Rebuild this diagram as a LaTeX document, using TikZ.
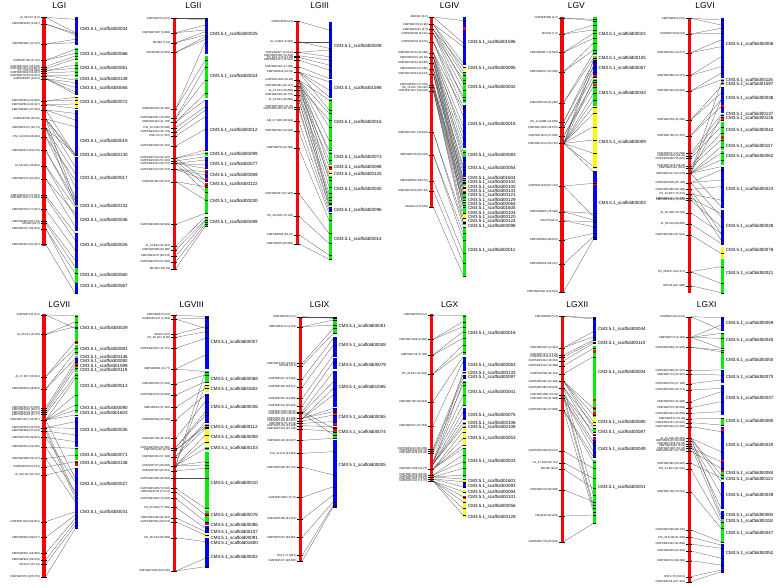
\documentclass[tikz,border=0pt]{standalone}
\usepackage{fontspec}
\setmainfont{Liberation Sans}
\definecolor{cR}{RGB}{255,0,0}
\definecolor{cB}{RGB}{0,0,255}
\definecolor{cG}{RGB}{0,240,0}
\definecolor{cY}{RGB}{255,255,0}
\definecolor{cK}{RGB}{150,150,150}
\definecolor{cO}{RGB}{170,170,60}
\tikzset{
 ttl/.style={font=\fontsize{8.5}{10}\selectfont, inner sep=0pt},
 mlab/.style={font=\fontsize{2.8}{3}\selectfont, anchor=east, inner sep=0pt},
 slab/.style={font=\fontsize{4.5}{5}\selectfont, anchor=west, inner sep=0pt},
 conn/.style={line width=0.25pt, draw=black!70},
 tk/.style={line width=0.25pt, draw=black},
}
\newcommand\LGlines{\foreach \ya/\yb in \CL {\draw[conn] (\LX,\ya) -- (\Rx,\yb);}}
\newcommand\LGticks{\foreach \ya/\yb in \CL {\draw[tk] (\Rx,\yb) -- (\RX,\yb);}}
\newcommand\LGred[2]{\fill[cR] (\Lx,#1) rectangle (\LX,#2);}
\newcommand\LGseg[1]{\foreach \ya/\yb/\col in {#1} {\fill[\col] (\Rx,\ya) rectangle (\RX,\yb);}}
\newcommand\LGspot[1]{\foreach \ya/\col in {#1} {\fill[\col] (\Rx,\ya-4) rectangle (\RX,\ya+4);}}
\newcommand\LGmark[1]{\foreach \ya/\lbl in {#1} {\draw[tk] (\Lx-5,\ya) -- (\LX+3,\ya); \node[mlab] at (\Lx-7,\ya) {\lbl};}}
\newcommand\LGlab[1]{\foreach \ya/\nm in {#1} {\node[slab] at (\RX+5,\ya) {CM3.5.1\_scaffold\nm};}}
\begin{document}
\begin{tikzpicture}[x=0.333333pt, y=-0.333333pt]
\fill[white] (0,0) rectangle (2334,1764);
\useasboundingbox (0,0) rectangle (2334,1764);
% ---------------- LGI
\begin{scope}[shift={(0,0)}]
\def\Lx{127}\def\LX{137}\def\Rx{225}\def\RX{235}
\node[ttl] at (178,18) {LGI};
\def\CL{52/58, 52/98, 72/100, 72/104, 132/118, 132/128, 181/148, 181/160, 200/168, 206/176, 212/195, 212/205, 219/215, 227/225, 227/240, 236/248, 236/262, 236/275, 236/282, 303/292, 303/300, 314/312, 314/325, 330/340, 330/360, 330/465, 357/380, 357/462, 357/470, 357/500, 357/600, 384/462, 384/520, 384/560, 384/612, 410/540, 410/590, 451/600, 451/612, 498/620, 498/650, 536/640, 536/680, 586/700, 592/720, 628/750, 664/780, 670/800, 686/820, 686/850, 733/880}
\LGlines
\LGred{50}{738}
\LGseg{52/135/cB, 143/180/cG, 187/231/cG, 234/240/cK, 243/284/cB, 290/328/cY, 330/461/cB, 463/467/cK, 470/612/cB, 615/620/cK, 624/692/cB, 700/800/cB, 805/848/cG, 852/880/cB}
\LGticks
\LGmark{52/AI\_06-F07 (0.0), 72/CMPSNP1020 (2.947), 132/CMPSNP883 (11.207), 181/CMPSNP788 (17.40), 200/CMPSNP1191 (20.128), 206/CMPSNP1004 (20.887), 212/FY\_07G (21.549), 219/CMPSNP1162 (22.301), 227/CMPSNP1078 (23.402), 236/CMPSNP887 (24.52), 303/CMPSNP463 (32.858), 314/CMPSNP613 (33.407), 330/CMPSNP461 (37.033), 357/CMPSNP398 (40.86), 384/CMPSNP1157 (44.73), 410/PSI\_12-D08 (46.459), 451/CMPSNP410 (52.279), 498/AI\_05-G01 (55.902), 536/CMPSNP721 (64.942), 586/CMPSNP1113 (71.352), 592/CMPSNP1041 (71.843), 628/CMPSNP784 (77.267), 664/CMPSNP863 (80.716), 670/MC242 (81.0), 686/CMPSNP787 (84.069), 733/CMPSNP304 (91.467)}
\LGlab{87/00034, 162/00066, 206/00061, 238/00138, 265/00065, 307/00072, 423/00019, 466/00130, 535/00017, 618/00132, 660/00046, 736/00026, 826/00060, 858/00067}
\end{scope}
% ---------------- LGII
\begin{scope}[shift={(390,0)}]
\def\Lx{128}\def\LX{137}\def\Rx{226}\def\RX{235}
\node[ttl] at (190,18) {LGII};
\def\CL{55/55, 55/60, 98/75, 98/90, 128/95, 128/105, 157/110, 157/118, 327/125, 327/180, 354/200, 354/240, 366/280, 366/300, 383/320, 396/330, 408/350, 438/388, 474/450, 474/460, 474/540, 483/470, 483/555, 490/480, 490/495, 490/505, 490/575, 508/515, 508/525, 508/540, 545/560, 545/600, 673/640, 738/650, 750/660, 768/665, 786/672, 806/678}
\LGlines
\LGred{55}{808}
\LGseg{55/162/cB, 167/295/cG, 300/452/cB, 455/468/cG, 474/505/cB, 510/545/cB, 548/560/cR, 563/640/cG, 650/680/cG}
\LGspot{518/cR, 537/cR}
\LGticks
\LGmark{55/CMPSNP754 (0.0), 98/CMPSNP1007 (5.884), 128/MC360 (7.61), 157/FR10H2B (12.853), 327/CMPSNP902 (36.455), 354/CMPSNP1067 (40.255), 366/CMPSNP222 (41.728), 383/PSI\_10-C06 (43.948), 396/CMPSNP1074 (45.779), 408/PSE-79 (47.267), 438/CMPSNP1093 (51.515), 474/CMPSNP1012 (56.187), 483/CMPSNP1015 (57.402), 490/CMPSNP1201 (58.737), 508/CMPSNP1073 (60.273), 545/CMPSNP381 (65.521), 673/CMPSNP1806 (82.881), 738/AI\_14-E02 (91.821), 750/CMPSNP998 (93.385), 768/CMPSNP1079 (95.011), 786/CMPSNP1076 (97.826), 806/MC282 (100.63)}
\LGlab{104/00025, 230/00024, 392/00012, 462/00099, 493/00077, 526/00069, 552/00122, 604/00030, 668/00089}
\end{scope}
% ---------------- LGIII
\begin{scope}[shift={(774,0)}]
\def\Lx{113}\def\LX{122}\def\Rx{213}\def\RX{223}
\node[ttl] at (185,18) {LGIII};
\def\CL{64/90, 125/125, 125/145, 157/150, 157/170, 167/180, 172/195, 180/210, 200/235, 216/245, 216/270, 216/290, 216/330, 240/300, 240/340, 240/380, 240/420, 240/460, 240/500, 240/540, 240/610, 258/360, 258/450, 258/520, 271/480, 271/560, 284/530, 284/580, 300/590, 300/600, 320/612, 327/620, 363/630, 393/640, 444/660, 580/700, 648/730, 704/765, 731/778}
\LGlines
\LGred{62}{733}
\LGseg{65/235/cB, 240/290/cB, 296/452/cG, 455/495/cG, 498/510/cR, 512/522/cY, 528/618/cG, 620/636/cB, 640/780/cG}
\LGticks
\LGmark{64/CMPSNP98 (0.0), 125/AI\_14-B01 (5.662), 157/CMPSNP327 (11.811), 167/CMPSNP1108 (13.243), 172/PS\_B01-C12 (14.06), 180/CMPSNP1137 (15.012), 200/CMPSNP918 (17.436), 216/CMPSNP814 (20.01), 240/CMPSNP1193 (22.86), 258/CMPSNP961 (25.127), 271/AI\_01-C11 (26.856), 284/CMPSNP526 (28.775), 300/AI\_02-H11 (30.885), 320/CMPSNP1064 (33.25), 327/CMPSNP1226 (34.107), 363/AM\_37-H06 (38.919), 393/CMPSNP522 (42.894), 444/CMPSNP78 (49.492), 580/CMPSNP947 (67.323), 648/PS\_08-G06 (75.132), 704/CMPSNP566 (82.07), 731/CMPSNP35 (85.802)}
\LGlab{140/00008, 264/01598, 368/00015, 472/00073, 502/00088, 524/00125, 569/00040, 630/00096, 718/00014}
\end{scope}
% ---------------- LGIV
\begin{scope}[shift={(1164,0)}]
\def\Lx{127}\def\LX{136}\def\Rx{226}\def\RX{235}
\node[ttl] at (185,18) {LGIV};
\def\CL{51/62, 51/130, 73/140, 73/190, 73/215, 88/200, 88/225, 88/250, 100/240, 100/270, 100/300, 126/290, 126/320, 126/350, 158/330, 158/380, 158/420, 158/540, 172/400, 172/440, 172/470, 172/560, 188/455, 188/480, 188/510, 188/580, 207/500, 207/520, 207/545, 207/600, 222/535, 222/550, 222/565, 222/620, 254/560, 254/575, 254/590, 262/590, 262/605, 262/615, 272/620, 272/640, 272/655, 272/670, 397/665, 397/680, 464/700, 464/720, 542/760, 572/790, 621/828}
\LGlines
\LGred{50}{622}
\LGseg{52/195/cB, 200/212/cY, 218/308/cG, 315/445/cB, 450/470/cG, 475/530/cB, 533/548/cK, 552/558/cG, 560/570/cY, 572/578/cR, 580/600/cG, 605/640/cG, 642/660/cY, 662/675/cK, 680/830/cG}
\LGspot{85/cR}
\LGticks
\LGmark{51/ADES10 (0.0), 73/CMPSNP470 (2.99), 88/CMPSNP1021 (4.5), 100/CMPSNP606 (6.021), 126/CMPSNP634 (9.079), 158/CMPSNP1013 (14.496), 172/CMPSNP1001 (16.33), 188/CMPSNP1029 (18.066), 207/CMPSNP380 (21.066), 222/CMPSNP1038 (23.213), 254/CMPSNP360 (27.304), 262/MI\_79-H07 (28.446), 272/CMPSNP1107 (29.409), 397/CMPSNP1027 (46.804), 464/CMPSNP716 (55.413), 542/CMPSNP562 (66.079), 572/CMPSNP1058 (68.724), 621/CmGlmut (75.606)}
\LGlab{128/01596, 206/00095, 263/00032, 374/00018, 466/00083, 506/00054, 535/01604, 548/00102, 561/00100, 574/00131, 587/00121, 600/00129, 613/00064, 626/01605, 639/00104, 652/00120, 665/00124, 678/00098, 752/00011}
\end{scope}
% ---------------- LGV
\begin{scope}[shift={(1554,0)}]
\def\Lx{127}\def\LX{137}\def\Rx{226}\def\RX{236}
\node[ttl] at (175,18) {LGV};
\def\CL{54/58, 54/62, 102/75, 102/90, 157/100, 157/115, 215/130, 215/150, 308/160, 308/175, 365/185, 365/200, 382/215, 382/230, 408/245, 408/260, 430/180, 430/200, 430/240, 430/280, 430/300, 430/320, 430/340, 430/380, 430/420, 430/460, 430/500, 430/515, 558/550, 558/650, 635/640, 635/660, 662/665, 662/680, 720/700, 792/710, 875/718}
\LGlines
\LGred{52}{877}
\LGseg{52/165/cG, 168/180/cO, 183/232/cB, 238/318/cG, 325/508/cY, 513/720/cB}
\LGspot{228/cR, 255/cR, 550/cR}
\LGticks
\LGmark{54/CMPSNP868 (0.0), 102/MC233 (7.0), 157/CMPSNP387 (14.864), 215/CMPSNP437 (22.058), 308/CMPSNP738 (34.288), 365/HS\_11-A08B (41.808), 382/CMPSNP1288 (43.875), 408/CMPSNP1124 (47.558), 430/CMPSNP1210 (50.744), 558/CMPSNP1138 (67.723), 635/CMPSNP665 (78.348), 662/MC276 (82.0), 720/CMPSNP669 (88.872), 792/CMPSNP466 (98.207), 875/CMPSNP1082 (110.521)}
\LGlab{103/00022, 174/00105, 206/00057, 281/00043, 427/00009, 610/00003}
\end{scope}
% ---------------- LGVI
\begin{scope}[shift={(1935,0)}]
\def\Lx{128}\def\LX{137}\def\Rx{228}\def\RX{237}
\node[ttl] at (180,18) {LGVI};
\def\CL{55/60, 55/75, 102/85, 102/100, 158/120, 158/140, 226/170, 226/200, 273/220, 273/240, 360/260, 360/280, 407/300, 407/320, 460/345, 467/360, 475/380, 497/400, 503/420, 520/250, 520/300, 520/350, 520/440, 520/460, 520/480, 520/500, 520/620, 548/510, 548/540, 548/650, 568/560, 568/700, 582/600, 582/720, 595/640, 600/680, 638/700, 672/730, 705/760, 815/800, 815/850, 857/878}
\LGlines
\LGred{55}{880}
\LGseg{55/235/cB, 237/256/cK, 260/338/cB, 341/350/cK, 352/362/cR, 365/440/cG, 441/449/cK, 452/495/cG, 500/625/cB, 630/735/cB, 740/775/cY, 778/880/cG}
\LGspot{320/cR, 413/cR}
\LGticks
\LGmark{55/CMPSNP425 (0.0), 102/CMPSNP1016 (6.8), 158/CMPSNP902 (14.077), 226/CMPSNP868 (23.271), 273/CMPSNP322 (28.801), 360/CMPSNP258 (41.086), 407/CMPSNP796 (47.267), 460/CMPSNP617 (53.696), 467/CMPSNP1122 (54.31), 475/CMPSNP1080 (55.621), 497/CMPSNP1218 (58.23), 503/CMPSNP1134 (58.9), 520/CMPSNP1127 (62.076), 548/CMPSNP1005 (65.798), 568/CMPSNP1260 (68.188), 582/PS\_15-B07 (70.471), 595/CMPSNP1141 (72.335), 600/CMPSNP1121 (73.021), 638/AI\_05-H06 (78.723), 672/AI\_06-F04 (82.855), 705/CMPSNP1861 (87.512), 815/PS\_26-B07 (102.471), 857/MC045 (107.985)}
\LGlab{133/00006, 241/00116, 253/01597, 294/00038, 343/00137, 355/00126, 390/00042, 440/00117, 470/00062, 568/00023, 680/00028, 752/00078, 820/00021}
\end{scope}
% ---------------- LGVII
\begin{scope}[shift={(0,885)}]
\def\Lx{127}\def\LX{137}\def\Rx{226}\def\RX{235}
\node[ttl] at (178,28) {LGVII};
\def\CL{60/62, 60/100, 118/80, 118/95, 245/140, 245/160, 282/170, 282/190, 338/200, 345/210, 352/220, 358/240, 375/250, 375/300, 375/330, 375/345, 375/360, 375/550, 398/380, 398/400, 398/600, 408/420, 408/610, 427/440, 427/560, 456/460, 456/590, 490/480, 490/620, 516/500, 540/520, 680/650, 727/660, 775/670, 795/680, 808/690, 845/700}
\LGlines
\LGred{58}{847}
\LGseg{60/145/cG, 150/180/cG, 183/188/cK, 190/200/cB, 202/230/cG, 233/330/cG, 333/355/cG, 365/455/cB, 458/495/cG, 498/512/cR, 518/610/cB, 612/700/cB}
\LGspot{143/cR, 205/cR, 213/cR}
\LGticks
\LGmark{60/CMPSNP743 (0.0), 118/AI\_05-F11 (6.795), 245/AI\_27-F07 (23.951), 282/CMPSNP555 (28.808), 338/CMPSNP904 (37.626), 345/CMPSNP1010 (38.51), 352/CMPSNP1233 (40.06), 358/CMPSNP1063 (41.77), 375/CMPSNP1027 (43.487), 398/CMPSNP526 (45.613), 408/CMPSNP966 (47.183), 427/CMPSNP738 (49.651), 456/CMPSNP344 (53.446), 490/CMPSNP988 (58.117), 516/CMPSNP98 (61.514), 540/AI\_09-H11 (64.732), 680/CMPSNP1108 (82.951), 727/CMPSNP482 (89.877), 775/CMPSNP461 (96.388), 795/CMPSNP922 (99.079), 808/MC132 (101.13), 845/CMPSNP979 (105.756)}
\LGlab{100/00029, 163/00081, 186/00146, 198/00092, 213/01599, 226/00119, 273/00013, 341/00090, 354/01603, 405/00035, 482/00071, 504/00136, 567/00027, 651/00031}
\end{scope}
% ---------------- LGVIII
\begin{scope}[shift={(390,885)}]
\def\Lx{128}\def\LX{137}\def\Rx{226}\def\RX{236}
\node[ttl] at (185,28) {LGVIII};
\def\CL{60/65, 72/70, 72/100, 118/95, 127/110, 160/130, 222/180, 222/230, 266/240, 300/260, 337/280, 375/300, 430/320, 458/350, 458/360, 465/390, 465/396, 485/380, 485/400, 512/230, 512/270, 512/420, 512/440, 512/460, 512/500, 512/510, 527/520, 550/550, 580/640, 590/660, 610/680, 637/700, 668/710, 680/720, 728/740, 828/790, 828/815}
\LGlines
\LGred{60}{830}
\LGseg{62/222/cB, 228/265/cG, 270/290/cY, 296/385/cB, 388/396/cK, 400/450/cY, 455/466/cG, 470/640/cG, 645/680/cG, 683/690/cR, 692/712/cB, 716/726/cY, 730/820/cB}
\LGspot{657/cR}
\LGticks
\LGmark{60/CMPSNP875 (0.0), 72/CMPSNP1147 (1.854), 118/MC301 (6.0), 127/PS\_25-G11 (6.85), 160/CMPSNP1037 (12.757), 222/CMPSNP984 (21.77), 266/CMPSNP535 (27.643), 300/CMPSNP1079 (32.862), 337/CMPSNP62 (37.262), 375/CMPSNP629 (42.236), 430/CMPSNP798 (48.713), 458/CMPSNP1091 (52.355), 465/CMPSNP1216 (52.9), 485/CMPSNP281 (57.183), 512/CMPSNP747 (60.802), 527/CMPSNP367 (62.012), 550/CMPSNP1066 (65.864), 580/CMPSNP1085 (70.006), 590/CMPSNP1035 (71.011), 610/CMPSNP1092 (72.643), 637/PS\_25-H03 (77.305), 668/CMPSNP1186 (81.821), 680/CMPSNP1061 (83.073), 728/HS\_06-A03 (89.289), 828/CMPSNP1188 (103.245)}
\LGlab{142/00007, 254/00068, 283/01602, 337/00036, 396/00112, 428/00058, 460/00103, 565/00010, 662/00076, 690/00086, 712/00107, 730/00091, 745/01600, 788/00002}
\end{scope}
% ---------------- LGIX
\begin{scope}[shift={(774,885)}]
\def\Lx{123}\def\LX{133}\def\Rx{226}\def\RX{236}
\node[ttl] at (185,28) {LGIX};
\def\CL{65/65, 65/70, 95/75, 95/90, 205/100, 212/115, 252/130, 276/150, 310/180, 332/200, 350/230, 350/400, 355/260, 355/420, 370/280, 370/300, 370/340, 370/350, 378/360, 385/380, 392/395, 402/410, 436/430, 475/470, 517/540, 607/575, 672/600, 727/620, 781/630, 797/635}
\LGlines
\LGred{65}{800}
\LGseg{65/118/cG, 125/185/cB, 190/222/cB, 228/335/cB, 340/392/cB, 398/430/cG, 435/635/cB}
\LGspot{356/cR, 385/cR, 402/cR, 410/cR}
\LGticks
\LGmark{65/CMPSNP501 (0.0), 95/CMPSNP1172 (4.125), 205/CMPSNP1261 (18.871), 212/MC068 (20.0), 252/CMPSNP621 (25.991), 276/CMPSNP380 (28.417), 310/CMPSNP581 (32.966), 332/CMPSNP231 (35.925), 350/CMPSNP1035 (38.41), 355/CMPSNP1229 (39.02), 370/CMPSNP1197 (41.238), 378/CMPSNP1129 (42.307), 385/CMPSNP1170 (43.18), 392/CMPSNP1103 (44.288), 402/CMPSNP1254 (45.128), 436/CMPSNP1145 (49.637), 475/PSI\_31-D11 (54.963), 517/CMPSNP1086 (60.751), 607/CMPSNP1066 (72.73), 672/CMPSNP1168 (81.425), 727/CMPSNP1067 (88.861), 781/EST1-17 (96.0), 797/CMPSNP472 (98.635)}
\LGlab{93/00051, 152/00048, 212/00079, 278/01595, 368/00055, 413/00074, 510/00005}
\end{scope}
% ---------------- LGX
\begin{scope}[shift={(1164,885)}]
\def\Lx{125}\def\LX{135}\def\Rx{225}\def\RX{235}
\node[ttl] at (185,28) {LGX};
\def\CL{60/62, 133/80, 133/95, 180/110, 180/130, 237/150, 237/170, 320/185, 392/200, 462/240, 468/250, 474/270, 500/230, 500/300, 500/330, 508/260, 508/350, 508/370, 508/385, 508/395, 522/410, 522/430, 522/450, 522/460, 540/480, 540/500, 546/520, 546/540, 546/552, 552/560, 552/575, 558/590, 558/605, 558/620, 558/640, 558/660}
\LGlines
\LGred{58}{560}
\LGseg{60/180/cG, 188/228/cB, 231/237/cK, 240/250/cB, 258/330/cG, 340/376/cB, 380/390/cO, 392/398/cK, 402/450/cY, 458/550/cG, 553/560/cY, 563/578/cB, 584/598/cY, 603/611/cR, 615/665/cY}
\LGticks
\LGmark{60/CMPSNP786 (0.0), 133/CMPSNP1206 (9.284), 180/CMPSNP716 (9.798), 237/PS\_40-E11 (21.604), 320/CMPSNP792 (30.991), 392/CMPSNP871 (44.753), 462/CMPSNP1212 (52.308), 468/CMPSNP1143 (53.11), 474/CMPSNP1228 (54.02), 522/CMPSNP1048 (62.27), 540/CMPSNP1200 (68.05), 546/CMPSNP1118 (69.33), 552/CMPSNP1054 (70.52), 558/CMPSNP1211 (71.70)}
\LGlab{115/00016, 212/00063, 236/00133, 248/00097, 292/00041, 360/00075, 384/00106, 396/00108, 430/00053, 500/00033, 558/01601, 575/00093, 591/00094, 608/00101, 635/00056, 667/00128}
\end{scope}
% ---------------- LGXII
\begin{scope}[shift={(1554,885)}]
\def\Lx{128}\def\LX{137}\def\Rx{226}\def\RX{235}
\node[ttl] at (178,28) {LGXII};
\def\CL{64/68, 64/72, 158/110, 158/125, 180/135, 186/140, 197/145, 212/160, 236/185, 259/340, 259/360, 259/380, 259/400, 278/390, 278/420, 278/600, 300/410, 300/440, 300/630, 310/450, 310/470, 310/640, 345/485, 345/500, 345/650, 468/520, 503/550, 522/580, 584/620, 663/660, 740/685}
\LGlines
\LGred{62}{742}
\LGseg{65/135/cB, 140/148/cB, 152/365/cG, 370/395/cY, 398/415/cG, 416/422/cR, 425/490/cB, 495/688/cG}
\LGspot{170/cR, 315/cR, 340/cR, 355/cR, 432/cR}
\LGticks
\LGmark{64/CMPSNP385 (0.0), 158/CMPSNP823 (12.912), 180/CMPSNP1217 (15.02), 186/CMPSNP1139 (15.58), 197/CMPSNP1324 (16.254), 212/CMPSNP1312 (18.388), 236/CMPSNP568 (22.113), 259/CMPSNP1281 (24.393), 278/CMPSNP1283 (26.535), 300/CMPSNP1084 (30.32), 310/CMPSNP778 (31.686), 345/CMPSNP1284 (37.856), 468/CMPSNP1058 (56.027), 503/CL\_57-E03 (59.727), 522/MC168 (62.0), 584/CMPSNP470 (69.906), 663/FR14F22 (81.801), 740/CMPSNP1778 (90.878)}
\LGlab{102/00044, 145/00110, 233/00004, 382/00080, 411/00087, 464/00049, 576/00001}
\end{scope}
% ---------------- LGXI
\begin{scope}[shift={(1935,885)}]
\def\Lx{128}\def\LX{138}\def\Rx{228}\def\RX{237}
\node[ttl] at (185,28) {LGXI};
\def\CL{65/68, 65/105, 127/90, 127/115, 127/130, 127/160, 157/165, 157/170, 226/225, 238/240, 266/255, 285/280, 320/290, 338/320, 355/350, 372/370, 383/390, 395/410, 430/470, 430/540, 430/560, 430/660, 438/600, 446/640, 453/670, 460/500, 468/520, 505/548, 522/680, 590/700, 705/740, 727/750, 747/760, 768/790, 797/810, 845/825, 860/830}
\LGlines
\LGred{65}{862}
\LGseg{65/108/cB, 115/160/cG, 165/222/cG, 228/265/cB, 270/360/cB, 368/390/cG, 395/525/cB, 526/530/cR, 531/548/cG, 550/556/cK, 560/640/cB, 648/670/cB, 672/680/cK, 685/745/cG, 748/830/cB}
\LGspot{405/cR, 500/cR}
\LGticks
\LGmark{65/CMPSNP1214 (0.0), 127/CMPSNP772 (6.426), 157/CMPSNP1086 (12.932), 226/CMPSNP1096 (21.975), 238/CMPSNP771 (23.467), 266/CMPSNP1278 (27.196), 285/CMPSNP1005 (29.771), 320/CMPSNP502 (34.296), 338/CMPSNP575 (36.889), 355/CMPSNP1021 (39.556), 372/CMPSNP670 (41.38), 383/CMPSNP1247 (43.037), 395/CMPSNP1249 (44.408), 430/AI\_02-A06 (48.902), 438/CMPSNP1105 (50.063), 446/CMPSNP1233 (50.92), 453/CMPSNP1049 (51.8), 460/CMPSNP1087 (52.43), 468/CMPSNP1197 (53.198), 505/CMPSNP992 (59.325), 522/PSI\_41-B07 (61.535), 590/CMPSNP728 (75.513), 705/CMPSNP1296 (88.245), 727/PSI\_35-H1B (90.348), 747/CMPSNP1312 (91.858), 768/CMPSNP826 (94.402), 797/CMPSNP474 (98.283), 845/EST2-75 (105.0), 860/CMPSNP416 (107.316)}
\LGlab{85/00059, 135/00045, 196/00050, 248/00070, 310/00037, 380/00085, 452/00020, 535/00084, 552/00113, 600/00039, 662/00082, 678/00118, 714/00047, 775/00052}
\end{scope}
\end{tikzpicture}
\end{document}
